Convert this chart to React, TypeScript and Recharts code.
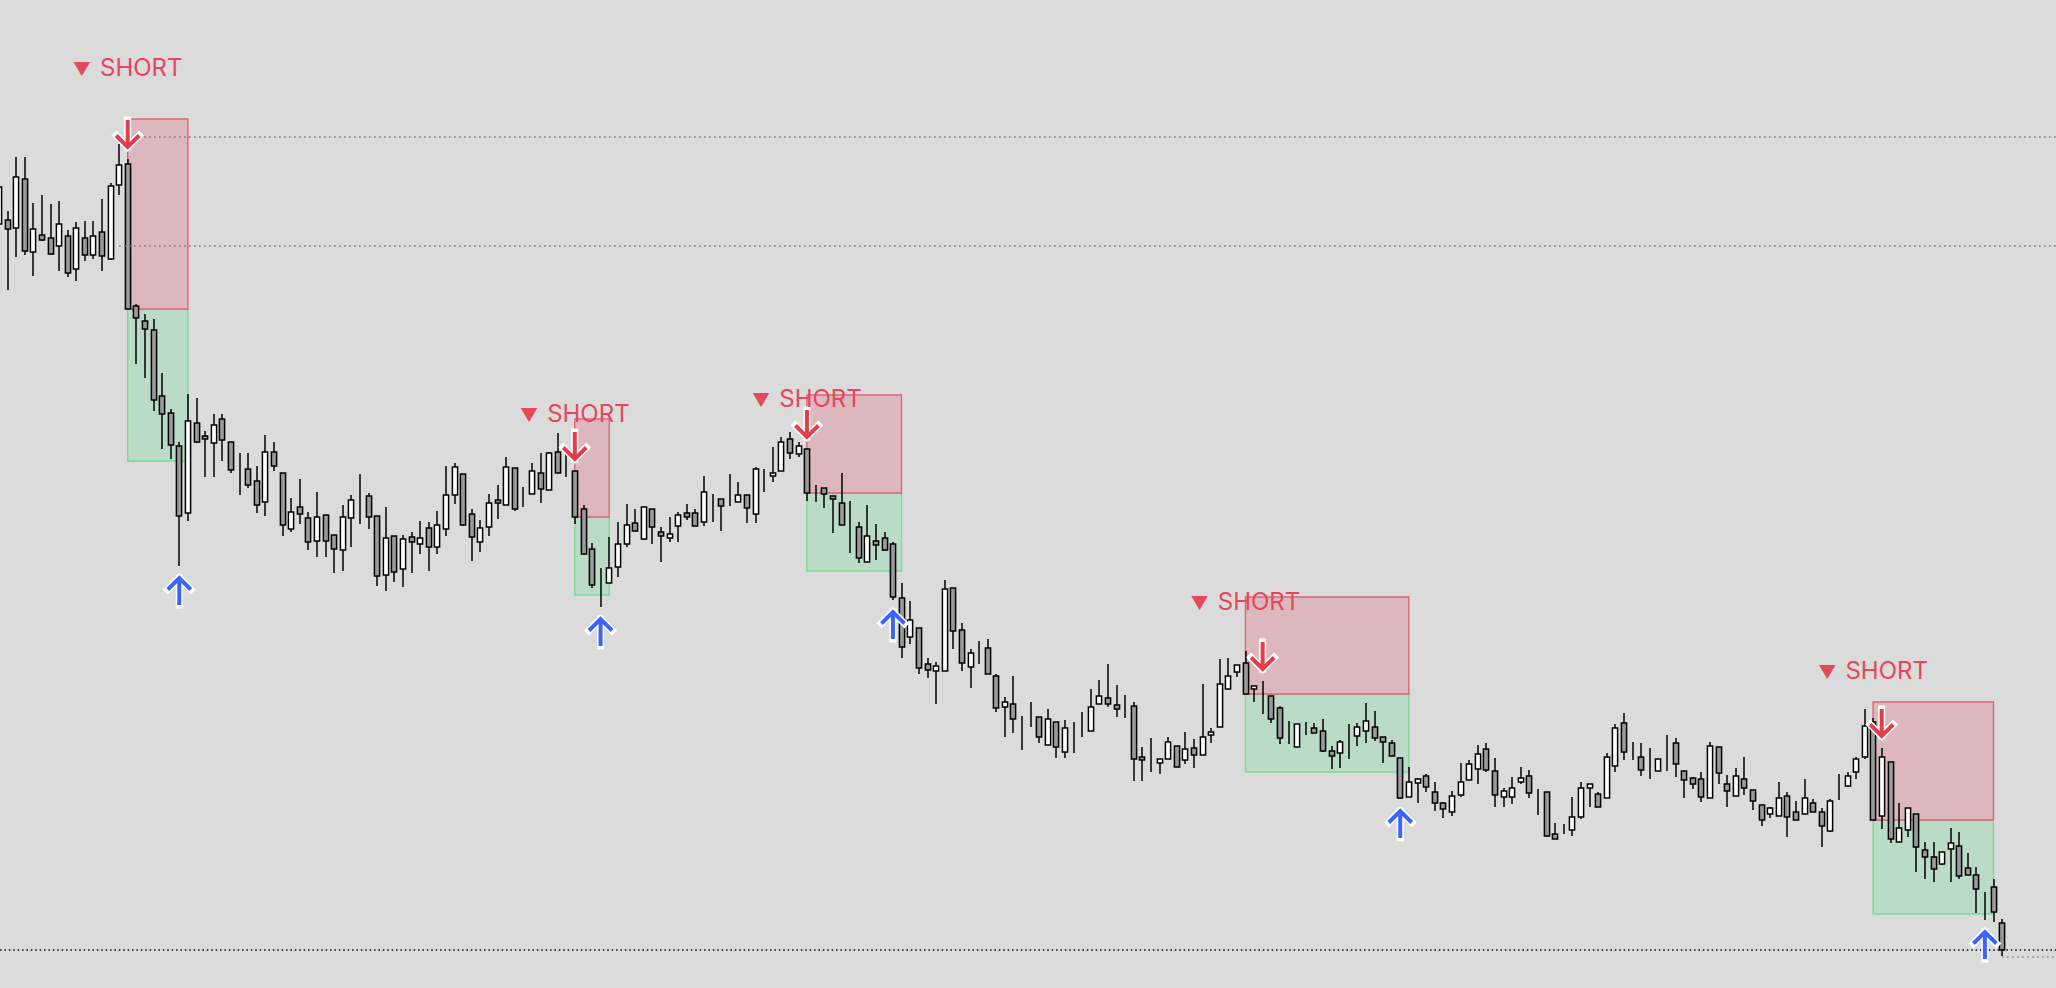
import React from "react";
import {
  ComposedChart,
  Bar,
  XAxis,
  YAxis,
  ReferenceArea,
  ReferenceLine,
  ReferenceDot,
} from "recharts";

// OHLC, one value per bar (234 bars)
const opens = [
  776, 780, 772, 821, 748, 765, 762, 754, 764, 731,
  762, 745, 768, 741, 815, 836, 694, 679, 670, 604,
  587, 554, 487, 577, 564, 557, 581, 558, 534, 531,
  519, 498, 548, 527, 471, 493, 482, 459, 485, 465,
  450, 482, 511, 504, 484, 425, 464, 431, 463, 456,
  472, 453, 471, 505, 526, 486, 458, 473, 500, 495,
  532, 501, 506, 527, 510, 548, 529, 529, 491, 451,
  419, 417, 433, 456, 477, 461, 491, 468, 462, 474,
  487, 487, 478, 506, 501, 494, 498, 505, 486, 531,
  524, 529, 561, 546, 551, 512, 512, 504, 497, 484,
  473, 438, 459, 462, 456, 402, 363, 372, 336, 329,
  329, 412, 370, 333, 352, 352, 324, 293, 296, 283,
  289, 283, 255, 278, 248, 269, 268, 269, 296, 302,
  295, 294, 294, 243, 238, 237, 241, 254, 240, 252,
  245, 265, 273, 311, 328, 337, 311, 307, 304, 292,
  262, 253, 269, 272, 269, 249, 247, 259, 264, 269,
  273, 263, 257, 242, 203, 217, 224, 208, 197, 188,
  205, 220, 231, 251, 229, 203, 203, 218, 224, 209,
  208, 166, 168, 170, 183, 212, 206, 202, 234, 277,
  247, 243, 232, 229, 248, 257, 229, 222, 221, 202,
  253, 216, 204, 221, 210, 195, 186, 184, 204, 188,
  186, 197, 188, 169, 204, 214, 228, 243, 278, 184,
  238, 158, 170, 186, 150, 143, 136, 151, 154, 132,
  125, 107, 113, 77,
];
const highs = [
  816, 789, 843, 843, 797, 805, 796, 799, 770, 778,
  779, 779, 801, 817, 856, 841, 696, 686, 681, 627,
  591, 558, 606, 602, 569, 586, 586, 558, 547, 547,
  534, 565, 558, 527, 502, 521, 488, 508, 485, 465,
  495, 505, 526, 507, 484, 493, 464, 465, 468, 479,
  478, 489, 534, 537, 526, 491, 480, 506, 515, 543,
  532, 513, 537, 547, 548, 567, 547, 529, 495, 457,
  432, 463, 478, 496, 491, 493, 491, 473, 483, 488,
  496, 491, 524, 506, 501, 526, 518, 505, 533, 531,
  553, 563, 568, 558, 551, 515, 512, 504, 527, 499,
  478, 495, 476, 468, 458, 417, 399, 372, 342, 338,
  420, 412, 377, 351, 359, 361, 326, 303, 324, 284,
  298, 283, 291, 278, 280, 278, 288, 311, 320, 336,
  315, 305, 298, 253, 262, 241, 263, 254, 268, 261,
  316, 272, 341, 342, 335, 349, 314, 319, 304, 294,
  279, 276, 278, 277, 281, 254, 260, 276, 277, 297,
  289, 263, 260, 242, 233, 222, 226, 218, 198, 209,
  237, 240, 255, 257, 242, 212, 223, 233, 230, 211,
  208, 177, 176, 203, 218, 216, 208, 247, 276, 287,
  258, 257, 252, 241, 265, 262, 229, 223, 228, 258,
  253, 225, 232, 243, 210, 195, 193, 218, 208, 199,
  221, 201, 192, 201, 226, 228, 243, 291, 282, 252,
  238, 197, 192, 186, 158, 158, 148, 172, 168, 147,
  133, 108, 121, 81,
];
const lows = [
  773, 710, 743, 745, 724, 759, 745, 729, 723, 719,
  739, 741, 729, 740, 805, 691, 636, 622, 589, 551,
  541, 434, 479, 557, 523, 523, 539, 527, 505, 512,
  487, 484, 529, 464, 468, 476, 450, 443, 443, 427,
  429, 453, 476, 471, 414, 409, 418, 413, 427, 446,
  429, 446, 464, 496, 474, 439, 448, 464, 481, 495,
  489, 493, 506, 497, 510, 527, 523, 476, 446, 412,
  393, 417, 423, 453, 469, 460, 456, 438, 458, 458,
  480, 474, 474, 478, 469, 494, 498, 477, 477, 508,
  518, 529, 541, 543, 499, 498, 492, 467, 475, 447,
  437, 438, 440, 449, 400, 342, 356, 326, 322, 296,
  329, 351, 329, 312, 336, 326, 288, 263, 267, 250,
  273, 257, 255, 242, 242, 247, 263, 269, 296, 293,
  283, 282, 219, 219, 228, 226, 241, 233, 236, 232,
  245, 257, 273, 311, 323, 306, 298, 286, 277, 256,
  256, 253, 265, 267, 248, 231, 232, 241, 254, 257,
  259, 237, 244, 201, 203, 197, 208, 189, 182, 184,
  203, 220, 216, 228, 193, 193, 196, 216, 202, 185,
  163, 161, 166, 164, 181, 193, 193, 202, 228, 240,
  240, 224, 221, 229, 229, 223, 202, 211, 198, 202,
  216, 193, 204, 205, 190, 174, 182, 184, 163, 180,
  186, 188, 153, 168, 200, 213, 221, 241, 180, 171,
  157, 158, 163, 128, 121, 118, 135, 118, 121, 125,
  87, 80, 78, 44,
];
const closes = [
  813, 771, 823, 749, 771, 760, 746, 776, 727, 772,
  745, 764, 744, 814, 835, 691, 682, 671, 600, 586,
  555, 484, 579, 558, 561, 575, 560, 530, 534, 515,
  495, 548, 534, 475, 488, 486, 458, 483, 459, 451,
  483, 500, 511, 483, 424, 462, 428, 461, 458, 462,
  453, 475, 505, 533, 475, 463, 472, 497, 497, 533,
  491, 501, 529, 511, 547, 527, 529, 483, 446, 415,
  419, 432, 456, 475, 469, 493, 473, 464, 466, 485,
  483, 474, 508, 506, 494, 494, 505, 492, 531, 531,
  527, 558, 547, 554, 507, 512, 506, 501, 475, 484,
  442, 464, 455, 450, 403, 353, 380, 332, 330, 334,
  411, 369, 337, 347, 352, 326, 292, 298, 281, 283,
  289, 263, 281, 253, 272, 269, 268, 293, 304, 296,
  291, 294, 241, 240, 238, 241, 258, 233, 251, 245,
  263, 268, 316, 324, 335, 306, 314, 307, 281, 262,
  262, 276, 269, 267, 249, 244, 258, 259, 273, 279,
  262, 258, 244, 202, 218, 221, 213, 197, 191, 204,
  218, 236, 246, 230, 205, 209, 212, 222, 207, 209,
  164, 161, 168, 183, 212, 216, 193, 243, 272, 248,
  247, 230, 232, 241, 248, 236, 220, 216, 203, 254,
  227, 209, 224, 212, 199, 180, 192, 202, 183, 180,
  202, 188, 174, 199, 204, 224, 241, 274, 180, 243,
  161, 172, 192, 153, 143, 131, 148, 157, 124, 125,
  111, 107, 88, 50,
];

// short setups: entry bar, last bar of the box, stop / target levels, label level
const entryBars = [15, 67, 94, 145, 218];
const exitBars = [22, 71, 105, 164, 232];
const stopLevels = [881, 581, 605, 403, 298];
const targetLevels = [539, 405, 429, 228, 86];
const labelLevels = [924, 578, 593, 390, 321];
const sellArrowBars = [15, 67, 94, 147, 219];
const buyArrowBars = [21, 70, 104, 163, 231];

const upperLevels = [863, 754];
const upperLevelsFrom = 14;
const lastPrice = 50;
const askPrice = 43;

const WIDTH = 2056;
const HEIGHT = 988;
const X_DOMAIN: [number, number] = [0.15, 239.27];
const Y_DOMAIN: [number, number] = [12, 1000];

const BG = "#dbdbdb";
const RED = "#e23d4b";
const BLUE = "#3b63ff";

const data = opens.map((open, i) => ({
  i,
  open,
  high: highs[i],
  low: lows[i],
  close: closes[i],
}));

const Candle = (props: any) => {
  const { x, y, width, height, payload } = props;
  if (!payload) return null;
  const cx = Math.round(x + width / 2);
  const top = Math.min(y, y + height);
  const bot = Math.max(y, y + height);
  const { open, high, low, close } = payload;
  const range = high - low || 1;
  const yOf = (v: number) => top + ((high - v) / range) * (bot - top);
  const bodyTop = yOf(Math.max(open, close));
  const bodyBot = yOf(Math.min(open, close));
  const up = close > open;
  return (
    <g>
      <line x1={cx} x2={cx} y1={top} y2={bot} stroke="#000" strokeWidth={1.5} />
      <rect
        x={cx - 2.6}
        y={bodyTop}
        width={5.2}
        height={Math.max(bodyBot - bodyTop, 0)}
        fill={up ? "#ffffff" : "#9a9a9a"}
        stroke="#000"
        strokeWidth={1.5}
      />
    </g>
  );
};

const Arrow = ({ cx, cy, dir, color }: any) => {
  // dir = 1 points down (tip above the bar), -1 points up (tip below the bar)
  const tip = cy - dir * 12;
  const d = `M${cx},${tip - dir * 27} L${cx},${tip} M${cx - 11.5},${tip - dir * 11.5} L${cx},${tip} L${cx + 11.5},${tip - dir * 11.5}`;
  return (
    <g>
      <path d={d} fill="none" stroke="#fff" strokeWidth={7} strokeLinecap="square" strokeLinejoin="miter" />
      <path d={d} fill="none" stroke={color} strokeWidth={4} strokeLinejoin="miter" />
    </g>
  );
};

const ShortLabel = ({ cx, cy }: any) => (
  <text
    x={cx}
    y={cy}
    textAnchor="middle"
    fill="#e6475a"
    fontFamily="Inter, 'Noto Sans', sans-serif"
    fontSize={24}
  >
    <tspan fontSize={18}>▼</tspan>
    <tspan dx={9}>SHORT</tspan>
  </text>
);

export default function App() {
  return (
    <div style={{ width: WIDTH, height: HEIGHT, background: BG, overflow: "hidden" }}>
      <style>{`html,body{margin:0;padding:0;background:${BG};}`}</style>
      <ComposedChart
        width={WIDTH}
        height={HEIGHT}
        data={data}
        margin={{ top: 0, right: 0, bottom: 0, left: 0 }}
      >
        <XAxis
          dataKey="i"
          type="number"
          domain={X_DOMAIN}
          allowDataOverflow
          hide
        />
        <YAxis type="number" domain={Y_DOMAIN} allowDataOverflow hide />

        {entryBars.map((bar, k) => (
          <ReferenceArea
            key={`tp-${k}`}
            x1={bar}
            x2={exitBars[k]}
            y1={targetLevels[k]}
            y2={closes[bar]}
            fill="#badbc6"
            fillOpacity={1}
            stroke="#7adb96"
            strokeWidth={1.4}
          />
        ))}
        {entryBars.map((bar, k) => (
          <ReferenceArea
            key={`sl-${k}`}
            x1={bar}
            x2={exitBars[k]}
            y1={closes[bar]}
            y2={stopLevels[k]}
            fill="#dcb8be"
            fillOpacity={1}
            stroke="#e1637a"
            strokeWidth={1.4}
          />
        ))}

        {upperLevels.map((level) => (
          <ReferenceLine
            key={level}
            segment={[
              { x: upperLevelsFrom, y: level },
              { x: X_DOMAIN[1], y: level },
            ]}
            stroke="#7a7a7a"
            strokeWidth={1.3}
            strokeDasharray="1.6 3.4"
          />
        ))}
        <ReferenceLine
          y={lastPrice}
          stroke="#111"
          strokeWidth={1.4}
          strokeDasharray="1.6 2.8"
        />
        <ReferenceLine
          segment={[
            { x: 233, y: askPrice },
            { x: X_DOMAIN[1], y: askPrice },
          ]}
          stroke="#888"
          strokeWidth={1.3}
          strokeDasharray="1.6 3.4"
        />

        <Bar
          dataKey={(d: any) => [d.low, d.high]}
          barSize={7}
          shape={Candle}
          isAnimationActive={false}
        />

        {sellArrowBars.map((bar) => (
          <ReferenceDot
            key={`sell-${bar}`}
            x={bar}
            y={highs[bar]}
            shape={(p: any) => <Arrow cx={p.cx} cy={p.cy} dir={1} color={RED} />}
          />
        ))}
        {buyArrowBars.map((bar) => (
          <ReferenceDot
            key={`buy-${bar}`}
            x={bar}
            y={lows[bar]}
            shape={(p: any) => <Arrow cx={p.cx} cy={p.cy} dir={-1} color={BLUE} />}
          />
        ))}
        {entryBars.map((bar, k) => (
          <ReferenceDot
            key={`label-${bar}`}
            x={bar}
            y={labelLevels[k]}
            shape={(p: any) => <ShortLabel cx={p.cx} cy={p.cy} />}
          />
        ))}
      </ComposedChart>
    </div>
  );
}
